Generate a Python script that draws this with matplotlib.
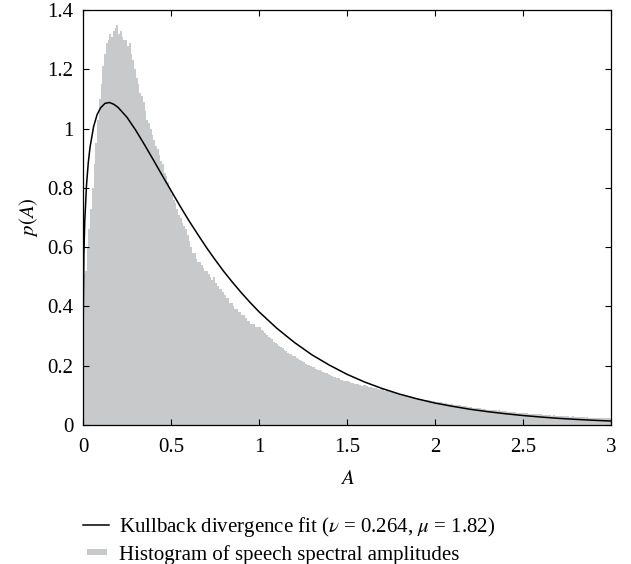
import numpy as np
import matplotlib
matplotlib.use("Agg")
import matplotlib.pyplot as plt
from matplotlib.patches import Patch, Rectangle
from matplotlib.lines import Line2D
from matplotlib.legend_handler import HandlerPatch

plt.rcParams['font.family'] = ['Liberation Serif', 'DejaVu Serif']
plt.rcParams['mathtext.fontset'] = 'stix'

# histogram of speech spectral amplitudes, bins of 0.01 from 0 to 3
bin_width = 0.01
hist_heights = [
    0.51, 0.52, 0.60, 0.66, 0.73, 0.80, 0.88, 0.95, 1.03, 1.10,
    1.15, 1.21, 1.25, 1.29, 1.30, 1.32, 1.31, 1.33, 1.34, 1.35,
    1.32, 1.33, 1.31, 1.30, 1.30, 1.28, 1.29, 1.25, 1.23, 1.20,
    1.17, 1.15, 1.12, 1.11, 1.09, 1.06, 1.03, 1.02, 1.00, 0.98,
    0.96, 0.94, 0.93, 0.91, 0.89, 0.88, 0.85, 0.84, 0.82, 0.80,
    0.78, 0.76, 0.75, 0.73, 0.71, 0.70, 0.68, 0.67, 0.66, 0.64,
    0.62, 0.60, 0.58, 0.58, 0.56, 0.55, 0.55, 0.54, 0.53, 0.52,
    0.52, 0.51, 0.50, 0.49, 0.50, 0.48, 0.47, 0.46, 0.46, 0.45,
    0.44, 0.43, 0.43, 0.41, 0.41, 0.40, 0.39, 0.39, 0.38, 0.38,
    0.37, 0.37, 0.36, 0.35, 0.35, 0.34, 0.34, 0.34, 0.33, 0.33,
    0.330, 0.322, 0.318, 0.309, 0.305, 0.298, 0.293, 0.290, 0.281, 0.277,
    0.272, 0.268, 0.262, 0.259, 0.252, 0.250, 0.243, 0.241, 0.238, 0.234,
    0.232, 0.226, 0.224, 0.219, 0.215, 0.213, 0.207, 0.204, 0.201, 0.199,
    0.195, 0.194, 0.189, 0.186, 0.184, 0.182, 0.178, 0.175, 0.174, 0.171,
    0.170, 0.166, 0.163, 0.161, 0.158, 0.158, 0.153, 0.152, 0.150, 0.147,
    0.148, 0.145, 0.141, 0.142, 0.140, 0.137, 0.138, 0.135, 0.132, 0.134,
    0.134, 0.130, 0.129, 0.128, 0.126, 0.124, 0.125, 0.121, 0.119, 0.121,
    0.120, 0.116, 0.117, 0.114, 0.112, 0.112, 0.109, 0.107, 0.108, 0.105,
    0.104, 0.102, 0.101, 0.099, 0.098, 0.096, 0.095, 0.094, 0.092, 0.091,
    0.090, 0.088, 0.089, 0.086, 0.085, 0.084, 0.083, 0.082, 0.081, 0.080,
    0.079, 0.078, 0.077, 0.077, 0.074, 0.074, 0.073, 0.072, 0.070, 0.070,
    0.069, 0.068, 0.067, 0.066, 0.066, 0.064, 0.063, 0.064, 0.061, 0.061,
    0.060, 0.059, 0.058, 0.058, 0.056, 0.056, 0.055, 0.054, 0.055, 0.052,
    0.052, 0.051, 0.051, 0.050, 0.049, 0.048, 0.050, 0.047, 0.046, 0.046,
    0.046, 0.045, 0.044, 0.044, 0.043, 0.043, 0.042, 0.041, 0.042, 0.040,
    0.040, 0.040, 0.039, 0.038, 0.038, 0.037, 0.038, 0.036, 0.036, 0.036,
    0.036, 0.035, 0.034, 0.035, 0.033, 0.033, 0.032, 0.034, 0.031, 0.031,
    0.031, 0.030, 0.031, 0.029, 0.029, 0.030, 0.028, 0.028, 0.029, 0.027,
    0.028, 0.027, 0.026, 0.027, 0.026, 0.025, 0.026, 0.025, 0.024, 0.025,
    0.025, 0.024, 0.023, 0.024, 0.023, 0.022, 0.023, 0.022, 0.024, 0.022,
]

# fitted curve (nu = 0.264, mu = 1.82), values read at these amplitudes
fit_A = [0.0005, 0.005, 0.01, 0.02, 0.03, 0.04, 0.06, 0.08, 0.1, 0.125,
         0.15, 0.175, 0.2, 0.25, 0.3, 0.35, 0.4, 0.45, 0.5, 0.55,
         0.6, 0.65, 0.7, 0.75, 0.8, 0.85, 0.9, 0.95, 1.0, 1.1,
         1.2, 1.3, 1.4, 1.5, 1.6, 1.7, 1.8, 1.9, 2.0, 2.1,
         2.2, 2.3, 2.4, 2.5, 2.6, 2.7, 2.8, 2.9, 3.0]
fit_p = [0.317, 0.577, 0.687, 0.810, 0.885, 0.937, 1.006, 1.047, 1.070, 1.085,
         1.088, 1.082, 1.071, 1.038, 0.994, 0.945, 0.894, 0.842, 0.791, 0.740,
         0.691, 0.645, 0.600, 0.558, 0.518, 0.481, 0.446, 0.413, 0.382, 0.327,
         0.279, 0.237, 0.202, 0.171, 0.145, 0.123, 0.104, 0.088, 0.074, 0.063,
         0.053, 0.045, 0.038, 0.032, 0.027, 0.0225, 0.019, 0.016, 0.0134]

x_ticks = [0, 0.5, 1, 1.5, 2, 2.5, 3]
x_tick_labels = ['0', '0.5', '1', '1.5', '2', '2.5', '3']
y_ticks = [0, 0.2, 0.4, 0.6, 0.8, 1.0, 1.2, 1.4]
y_tick_labels = ['0', '0.2', '0.4', '0.6', '0.8', '1', '1.2', '1.4']

fit_label = r'Kullback divergence fit ($\nu$ = 0.264, $\mu$ = 1.82)'
hist_label = 'Histogram of speech spectral amplitudes'
grey = '#c8c9cb'
fs = 15

W, H = 631, 564
fig = plt.figure(figsize=(W / 100, H / 100), dpi=100)
ax = fig.add_axes([83 / W, 1 - 425 / H, (611 - 83) / W, (425 - 10) / H])

edges = np.arange(len(hist_heights) + 1) * bin_width
ax.stairs(hist_heights, edges, fill=True, color=grey, linewidth=0)
ax.plot(fit_A, fit_p, color='black', lw=1.1)

ax.set_xlim(0, 3)
ax.set_ylim(0, 1.4)
ax.set_xticks(x_ticks)
ax.set_xticklabels(x_tick_labels)
ax.set_yticks(y_ticks)
ax.set_yticklabels(y_tick_labels)
ax.tick_params(direction='in', length=4, width=0.8, labelsize=fs,
               top=True, right=True)
ax.tick_params(axis='x', pad=9)
ax.tick_params(axis='y', pad=7)
for s in ax.spines.values():
    s.set_linewidth(0.9)

ax.set_xlabel('$A$', fontsize=fs, labelpad=10)
ax.set_ylabel('$p(A)$', fontsize=fs, labelpad=5)


def small_box(legend, orig_handle, xdescent, ydescent, width, height, fontsize):
    return Rectangle((-xdescent + 0.15 * width, -ydescent + 0.3 * height),
                     0.77 * width, 0.42 * height)


line_h = Line2D([], [], color='black', lw=1.1)
patch_h = Patch(facecolor=grey, edgecolor='none')
fig.legend([line_h, patch_h], [fit_label, hist_label],
           loc='upper left', bbox_to_anchor=(83 / W, 1 - 515 / H),
           frameon=False, fontsize=fs, borderpad=0, borderaxespad=0,
           handlelength=1.25, handletextpad=0.5, labelspacing=0.27,
           handler_map={patch_h: HandlerPatch(patch_func=small_box)})

fig.savefig('out.png', dpi=100)
